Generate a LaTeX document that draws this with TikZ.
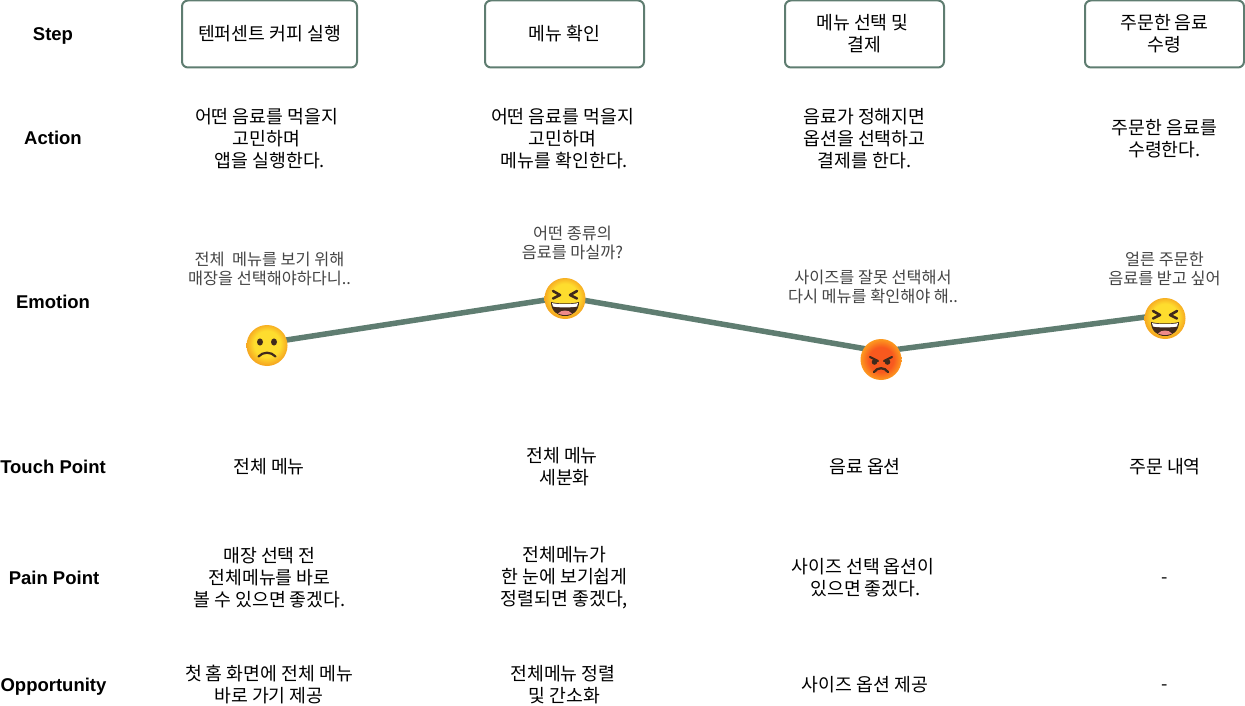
\documentclass[tikz,border=0pt]{standalone}
\usepackage{fontspec}
\setmainfont{Noto Sans CJK KR}
\newfontfamily\labelfont{Liberation Sans}
\definecolor{sage}{HTML}{5F7D71}
\definecolor{smalltxt}{HTML}{444444}
\definecolor{eyellow}{HTML}{FEDD2E}
\definecolor{eorange}{HTML}{F6A821}
\definecolor{edark}{HTML}{402A1C}
\definecolor{ered}{HTML}{F8591E}
\definecolor{eamber}{HTML}{FD9A1F}
\definecolor{etongue}{HTML}{EF8A8A}
\pgfdeclareradialshading{yface}{\pgfpoint{0bp}{3bp}}{color(0bp)=(eyellow); color(16bp)=(eyellow); color(25bp)=(eorange); color(50bp)=(eorange)}
\pgfdeclareradialshading{aface}{\pgfpoint{0bp}{0bp}}{color(0bp)=(ered); color(15bp)=(ered); color(25bp)=(eamber); color(50bp)=(eamber)}
\tikzset{
  x=1pt,y=-1pt,
  rowlabel/.style={anchor=base,font=\labelfont\bfseries\fontsize{18.5}{20}\selectfont,text=black,inner sep=0},
  stepbox/.style={draw=sage,line width=2pt,rounded corners=6pt,fill=white,align=center,inner sep=0,
     font=\fontsize{18.3}{22}\selectfont,minimum height=67pt},
  body/.style={align=center,inner sep=0,font=\fontsize{18.3}{22}\selectfont,text=black},
  small/.style={align=center,inner sep=0,font=\fontsize{16.3}{19}\selectfont,text=smalltxt},
  facenode/.style={circle,minimum size=41pt,inner sep=0,outer sep=0},
  link/.style={draw=sage,line width=5.5pt},
  featline/.style={draw=edark,line width=2.6pt,line cap=round,line join=round},
}
\newcommand{\lowr}[1]{\raisebox{-2pt}{#1}}
\newcommand{\yellowdisc}[1]{\shade[shading=yface] (#1) circle[radius=20.5pt];}
\newcommand{\laughface}[1]{%
  \yellowdisc{#1}
  \begin{scope}[shift={(#1)}]
    \draw[featline] (-12,-7.5) -- (-5,-3.5) -- (-12,0);
    \draw[featline] (12,-7.5) -- (5,-3.5) -- (12,0);
    \fill[edark] (-14,3.5) .. controls (-7,5.5) and (7,5.5) .. (14,3.5) .. controls (14,12) and (8,17.5) .. (0,17.5) .. controls (-8,17.5) and (-14,12) .. (-14,3.5) -- cycle;
    \fill[white] (-13,4.6) .. controls (-7,6) and (7,6) .. (13,4.6) -- (12,8) .. controls (7,9.2) and (-7,9.2) .. (-12,8) -- cycle;
    \fill[etongue] (-7,15) .. controls (-3.5,11) and (3.5,11) .. (7,15) .. controls (3.5,17) and (-3.5,17) .. (-7,15) -- cycle;
  \end{scope}}
\newcommand{\sadface}[1]{%
  \yellowdisc{#1}
  \begin{scope}[shift={(#1)}]
    \fill[edark] (-7,-3.5) ellipse[x radius=3pt,y radius=3.6pt];
    \fill[edark] (7,-3.5) ellipse[x radius=3pt,y radius=3.6pt];
    \draw[edark,line width=2.2pt,line cap=round] (-8.5,11) .. controls (-4,6) and (4,6) .. (8.5,11);
  \end{scope}}
\newcommand{\angryface}[1]{%
  \shade[shading=aface] (#1) circle[radius=20.5pt];
  \begin{scope}[shift={(#1)}]
    \draw[featline,line width=2.2pt] (-11,-2.5) -- (-3,1.5);
    \draw[featline,line width=2.2pt] (11,-2.5) -- (3,1.5);
    \fill[edark] (-6.5,2.5) circle[radius=2.8pt];
    \fill[edark] (6.5,2.5) circle[radius=2.8pt];
    \draw[edark,line width=2.3pt,line cap=round] (-7,12.5) .. controls (-3.5,7.5) and (3.5,7.5) .. (7,12.5);
  \end{scope}}
\begin{document}
\begin{tikzpicture}
\useasboundingbox (0,0) rectangle (1245,706);
\fill[white] (0,0) rectangle (1245,706);
% row labels
\node[rowlabel] (lstep) at (53,41) {Step};
\node[rowlabel] (laction) at (53,145) {Action};
\node[rowlabel] (lemotion) at (53,308) {Emotion};
\node[rowlabel] (ltouch) at (53,473) {Touch Point};
\node[rowlabel] (lpain) at (54,584) {Pain Point};
\node[rowlabel] (lopp) at (53.5,691) {Opportunity};
% steps
\node[stepbox,minimum width=175pt] (s1) at (269.5,34) {\lowr{텐퍼센트 커피 실행}};
\node[stepbox,minimum width=159pt] (s2) at (564.5,34) {\lowr{메뉴 확인}};
\node[stepbox,minimum width=159pt] (s3) at (864.5,34) {\lowr{메뉴 선택 및\hspace*{4pt}}\\\lowr{결제}};
\node[stepbox,minimum width=159pt] (s4) at (1164.5,34) {\lowr{주문한 음료}\\\lowr{수령}};
% actions
\node[body] (a1) at (266.5,139) {어떤 음료를 먹을지\\고민하며\\\hspace*{7pt}앱을 실행한다.};
\node[body] (a2) at (562.5,139) {어떤 음료를 먹을지\\고민하며\\\hspace*{4pt}메뉴를 확인한다.};
\node[body] (a3) at (864.5,139) {음료가 정해지면\\옵션을 선택하고\\결제를 한다.};
\node[body] (a4) at (1164.5,138.5) {주문한 음료를\\수령한다.};
% emotion captions
\node[small] (c1) at (269.5,269) {전체 ~메뉴를 보기 위해\\매장을 선택해야하다니..};
\node[small] (c2) at (572.5,242.5) {어떤 종류의\\음료를 마실까?};
\node[small] (c3) at (873,287) {사이즈를 잘못 선택해서\\다시 메뉴를 확인해야 해..};
\node[small] (c4) at (1164.5,269) {얼른 주문한\\음료를 받고 싶어};
% emotion points
\coordinate (p1) at (267,343);
\coordinate (p2) at (565,297);
\coordinate (p3) at (881,351.5);
\coordinate (p4) at (1165,314.5);
\draw[link] (p1) -- (p2);
\draw[link] (p2) -- (p3);
\draw[link] (p3) -- (p4);
\node[facenode] (e1) at (267,345.5) {};
\node[facenode] (e2) at (565,298.5) {};
\node[facenode] (e3) at (881,359.5) {};
\node[facenode] (e4) at (1165,318.5) {};
\sadface{e1.center}
\laughface{e2.center}
\angryface{e3.center}
\laughface{e4.center}
% touch points
\node[body] (t1) at (269,466.5) {전체 메뉴};
\node[body] (t2) at (562,466.5) {전체 메뉴\\\hspace*{5pt}세분화};
\node[body] (t3) at (865,466.5) {음료 옵션};
\node[body] (t4) at (1165,466.5) {주문 내역};
% pain points
\node[body] (p1t) at (269.5,577.5) {매장 선택 전\\전체메뉴를 바로\hspace*{6pt}\\볼 수 있으면 좋겠다.};
\node[body] (p2t) at (564.5,577.5) {전체메뉴가\\한 눈에 보기쉽게\\정렬되면 좋겠다,};
\node[body] (p3t) at (863,578) {사이즈 선택 옵션이\\\hspace*{5pt}있으면 좋겠다.};
\node[body] (p4t) at (1165,581) {-};
% opportunities
\node[body] (o1) at (269,684.5) {첫 홈 화면에 전체 메뉴\\바로 가기 제공};
\node[body] (o2) at (563,684.5) {전체메뉴 정렬\\\hspace*{3pt}및 간소화};
\node[body] (o3) at (865,684.5) {사이즈 옵션 제공};
\node[body] (o4) at (1165,688) {-};
\end{tikzpicture}
\end{document}
